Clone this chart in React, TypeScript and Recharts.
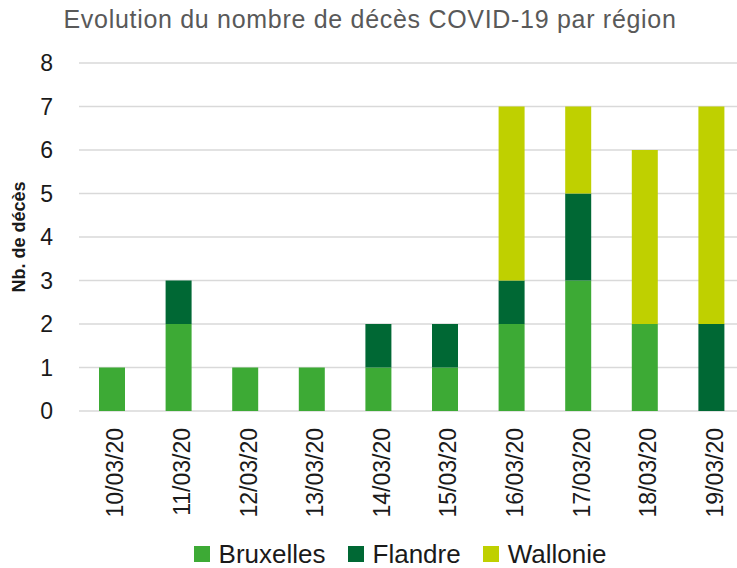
import React from 'react';
import { BarChart, Bar, XAxis, YAxis, CartesianGrid, Legend } from 'recharts';

const dates = ['10/03/20', '11/03/20', '12/03/20', '13/03/20', '14/03/20', '15/03/20', '16/03/20', '17/03/20', '18/03/20', '19/03/20'];
const bruxelles = [1, 2, 1, 1, 1, 1, 2, 3, 2, 0];
const flandre = [0, 1, 0, 0, 1, 1, 1, 2, 0, 2];
const wallonie = [0, 0, 0, 0, 0, 0, 4, 2, 4, 5];
const yTicks = [0, 1, 2, 3, 4, 5, 6, 7, 8];

const data = dates.map((d, i) => ({
  date: d,
  Bruxelles: bruxelles[i],
  Flandre: flandre[i],
  Wallonie: wallonie[i],
}));

const FONT = '"Liberation Sans", Arial, sans-serif';

const XTick = (props: any) => {
  const { x, y, payload } = props;
  return (
    <g transform={`translate(${x},${y})`}>
      <text
        x={0}
        y={0}
        dx={-17}
        dy={11}
        transform="rotate(-90)"
        textAnchor="end"
        fontFamily={FONT}
        fontSize={23}
        fill="#1a1a1a"
      >
        {payload.value}
      </text>
    </g>
  );
};

const LegendContent = (props: any) => {
  const { payload } = props;
  return (
    <div style={{ display: 'flex', justifyContent: 'center', alignItems: 'center', height: 26, fontFamily: FONT, fontSize: 26, lineHeight: '26px', color: '#1a1a1a' }}>
      {payload.map((p: any, i: number) => (
        <div key={i} style={{ display: 'flex', alignItems: 'center', marginRight: i < payload.length - 1 ? 22 : 0 }}>
          <span style={{ display: 'inline-block', width: 16, height: 16, background: p.color, marginRight: 9 }} />
          <span style={{ lineHeight: '26px' }}>{p.value}</span>
        </div>
      ))}
    </div>
  );
};

export default function App() {
  return (
    <div style={{ position: 'absolute', left: 0, top: 0, width: 737, height: 568, overflow: 'hidden', background: '#fff' }}>
      <div
        style={{
          position: 'absolute',
          left: 0,
          top: 7,
          width: 740,
          textAlign: 'center',
          fontFamily: FONT,
          fontSize: 25,
          lineHeight: '25px',
          letterSpacing: 0.7,
          color: '#595959',
          whiteSpace: 'nowrap',
        }}
      >
        Evolution du nombre de décès COVID-19 par région
      </div>
      <BarChart
        width={760}
        height={568}
        data={data}
        margin={{ top: 63, right: 15, bottom: 0, left: 19 }}
        barSize={26}
      >
        <CartesianGrid vertical={false} stroke="#d9d9d9" strokeWidth={1.5} />
        <XAxis
          dataKey="date"
          height={157}
          axisLine={false}
          tickLine={false}
          tickSize={0}
          tickMargin={0}
          interval={0}
          tick={<XTick />}
        />
        <YAxis
          width={60}
          domain={[0, 8]}
          ticks={yTicks}
          interval={0}
          axisLine={false}
          tickLine={false}
          tickSize={0}
          tickMargin={26}
          tick={{ fontFamily: FONT, fontSize: 23, fill: '#1a1a1a' }}
          label={{
            content: (p: any) => {
              const vb = p.viewBox || { x: 19, y: 63, width: 60, height: 348 };
              const cx = 19;
              const cy = vb.y + vb.height / 2;
              return (
                <text
                  x={cx}
                  y={cy}
                  transform={`rotate(-90 ${cx} ${cy})`}
                  textAnchor="middle"
                  dominantBaseline="central"
                  fontFamily={FONT}
                  fontWeight="bold"
                  fontSize={18}
                  fill="#1a1a1a"
                >
                  Nb. de décès
                </text>
              );
            },
          }}
        />
        <Legend
          layout="horizontal"
          verticalAlign="middle"
          align="center"
          content={<LegendContent />}
          wrapperStyle={{ top: 541, left: 0, width: 800, height: 26 }}
        />
        <Bar dataKey="Bruxelles" stackId="a" fill="#3daa35" isAnimationActive={false} />
        <Bar dataKey="Flandre" stackId="a" fill="#006834" isAnimationActive={false} />
        <Bar dataKey="Wallonie" stackId="a" fill="#bfd000" isAnimationActive={false} />
      </BarChart>
    </div>
  );
}
